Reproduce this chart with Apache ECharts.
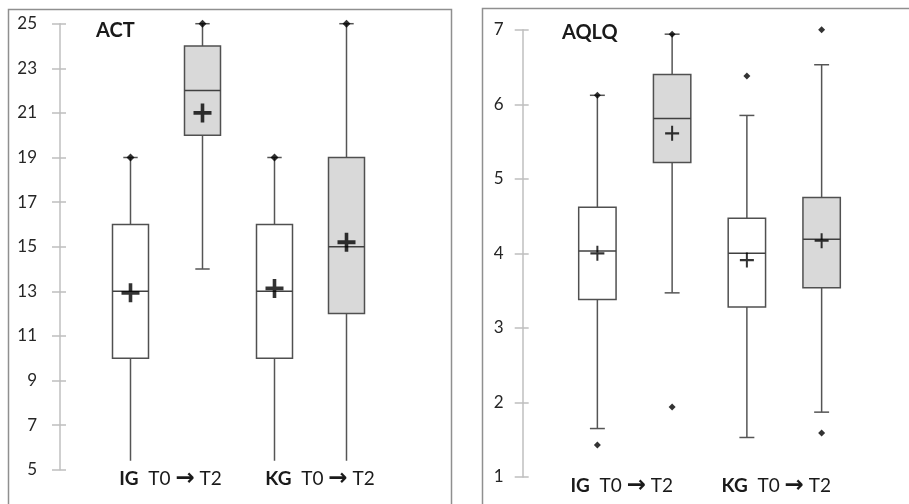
<!DOCTYPE html>
<html>
<head>
<meta charset="utf-8">
<script src="https://cdn.jsdelivr.net/npm/echarts@6/dist/echarts.min.js"></script>
<style>
html,body{margin:0;padding:0;background:#fff;}
#c{width:909px;height:504px;}
</style>
</head>
<body>
<div id="c"></div>
<script>
// ---- data ----
const boxCategories = ['IG T0', 'IG T2', 'KG T0', 'KG T2'];
const groupLabels = ['IG', 'KG'];

const actTicks = [5, 7, 9, 11, 13, 15, 17, 19, 21, 23, 25];
const actMin    = [5, 14, 5, 5];
const actQ1     = [10, 20, 10, 12];
const actMedian = [13, 22, 13, 15];
const actQ3     = [16, 24, 16, 19];
const actMax    = [19, 25, 19, 25];
const actMean   = [12.93, 21.0, 13.13, 15.2];
const actDots   = [[0, 19], [1, 25], [2, 19], [3, 25]];

const aqlqTicks = [1, 2, 3, 4, 5, 6, 7];
const aqlqMin    = [1.65, 3.47, 1.53, 1.87];
const aqlqQ1     = [3.38, 5.22, 3.28, 3.54];
const aqlqMedian = [4.03, 5.81, 4.00, 4.19];
const aqlqQ3     = [4.62, 6.40, 4.47, 4.75];
const aqlqMax    = [6.12, 6.94, 5.85, 6.53];
const aqlqMean   = [4.00, 5.61, 3.91, 4.17];
const aqlqDots   = [[0, 6.12], [0, 1.43], [1, 6.94], [1, 1.94], [2, 6.38], [3, 7.0], [3, 1.59]];

// ---- build ----
const FONT = 'Lato';
function boxData(mn, q1, md, q3, mx) {
  return boxCategories.map((c, i) => [i, mn[i], q1[i], md[i], q3[i], mx[i]]);
}
function meanData(m) { return m.map((v, i) => [i, v]); }

function renderBox(params, api) {
  const x = api.value(0);
  const lo = api.coord([x, api.value(1)]);
  const q1 = api.coord([x, api.value(2)]);
  const md = api.coord([x, api.value(3)]);
  const q3 = api.coord([x, api.value(4)]);
  const hi = api.coord([x, api.value(5)]);
  const band = api.size([1, 0])[0];
  const bw = band * 0.5, cw = band * 0.2;
  const cx = lo[0];
  const fill = (x % 2 === 1) ? '#d9d9d9' : '#ffffff';
  const ls = { stroke: '#555555', lineWidth: 1.5 };
  return {
    type: 'group',
    children: [
      { type: 'line', shape: { x1: cx, y1: q3[1], x2: cx, y2: hi[1] }, style: ls },
      { type: 'line', shape: { x1: cx, y1: q1[1], x2: cx, y2: lo[1] }, style: ls },
      { type: 'line', shape: { x1: cx - cw / 2, y1: hi[1], x2: cx + cw / 2, y2: hi[1] }, style: ls },
      { type: 'line', shape: { x1: cx - cw / 2, y1: lo[1], x2: cx + cw / 2, y2: lo[1] }, style: ls },
      { type: 'rect', shape: { x: cx - bw / 2, y: q3[1], width: bw, height: q1[1] - q3[1] },
        style: { fill: fill, stroke: '#505050', lineWidth: 1.5 } },
      { type: 'line', shape: { x1: cx - bw / 2, y1: md[1], x2: cx + bw / 2, y2: md[1] },
        style: { stroke: '#404040', lineWidth: 1.5 } }
    ]
  };
}

const plusThick = 'path://M4,0h2v4h4v2h-4v4h-2v-4H0V4h4z';
const plusThin = 'path://M6,0h2v6h6v2h-6v6h-2v-6H0V6h6z';

function labelAxis(gridIndex, spacers) {
  return {
    type: 'category', gridIndex: gridIndex, data: groupLabels, z: 10, position: 'bottom',
    axisLine: { show: false }, axisTick: { show: false }, splitLine: { show: false },
    axisLabel: {
      margin: -9, interval: 0,
      backgroundColor: '#ffffff', padding: [8, 4, 8, 4],
      formatter: function (v, i) {
        const s = spacers[i];
        const pre = s > 0 ? '{sp' + i + '| }' : '';
        const post = s < 0 ? '{sp' + i + '| }' : '';
        return pre + '{b|' + v + '}{n|  T0 }{a|→}{n| T2}' + post;
      },
      rich: {
        b: { fontFamily: FONT, fontWeight: 'bold', fontSize: 19, color: '#1a1a1a', lineHeight: 20 },
        n: { fontFamily: FONT, fontSize: 19, color: '#1a1a1a', lineHeight: 20 },
        a: { fontFamily: 'DejaVu Sans', fontWeight: 'bold', fontSize: 23, color: '#1a1a1a', lineHeight: 20 },
        sp0: { width: Math.abs(spacers[0]) * 2, lineHeight: 20 },
        sp1: { width: Math.abs(spacers[1]) * 2, lineHeight: 20 }
      }
    }
  };
}

function valueAxes(gridIndex, min, max, interval, offset, margin) {
  return [
    {
      type: 'value', gridIndex: gridIndex, position: 'left', min: min, max: max, interval: interval, offset: offset,
      axisLine: { show: true, lineStyle: { color: '#bfbfbf', width: 1.5 } },
      axisTick: { show: true, inside: false, length: 8, lineStyle: { color: '#bfbfbf', width: 1.5 } },
      splitLine: { show: false },
      axisLabel: { margin: margin, fontFamily: FONT, fontSize: 17, color: '#262626' }
    },
    {
      type: 'value', gridIndex: gridIndex, position: 'left', min: min, max: max, interval: interval, offset: offset,
      axisLine: { show: false },
      axisTick: { show: true, inside: true, length: 6, lineStyle: { color: '#bfbfbf', width: 1.5 } },
      splitLine: { show: false },
      axisLabel: { show: false }
    }
  ];
}

const chart = echarts.init(document.getElementById('c'), null, { renderer: 'canvas' });
const option = {
  animation: false,
  backgroundColor: '#ffffff',
  title: [
    { text: 'ACT', left: 96, top: 21, padding: 0,
      textStyle: { fontFamily: FONT, fontWeight: 'bold', fontSize: 20, color: '#1a1a1a' } },
    { text: 'AQLQ', left: 562, top: 23, padding: 0,
      textStyle: { fontFamily: FONT, fontWeight: 'bold', fontSize: 20, color: '#1a1a1a' } }
  ],
  graphic: [
    { type: 'rect', left: 6, top: 7, z: -1, silent: true,
      shape: { width: 443, height: 520 }, style: { fill: 'none', stroke: '#8f8f8f', lineWidth: 1.5 } },
    { type: 'rect', left: 480, top: 6, z: -1, silent: true,
      shape: { width: 460, height: 520 }, style: { fill: 'none', stroke: '#8f8f8f', lineWidth: 1.5 } }
  ],
  grid: [
    { left: 94.5, width: 288, top: 23.7, height: 446 },
    { left: 560, width: 299, top: 29.7, height: 453 }
  ],
  xAxis: [
    { type: 'category', gridIndex: 0, data: boxCategories, show: false },
    labelAxis(0, [4, 9.5]),
    { type: 'category', gridIndex: 1, data: boxCategories, show: false },
    labelAxis(1, [-13, -8])
  ],
  yAxis: [].concat(
    valueAxes(0, actTicks[0], actTicks[actTicks.length - 1], 2, 34.5, 23),
    valueAxes(1, aqlqTicks[0], aqlqTicks[aqlqTicks.length - 1], 1, 37.3, 19)
  ),
  series: [
    { type: 'custom', xAxisIndex: 0, yAxisIndex: 0, renderItem: renderBox,
      encode: { x: 0, y: [1, 2, 3, 4, 5] },
      data: boxData(actMin, actQ1, actMedian, actQ3, actMax) },
    { type: 'scatter', xAxisIndex: 0, yAxisIndex: 0, symbol: 'diamond', symbolSize: 8,
      itemStyle: { color: '#000' }, z: 4, data: actDots },
    { type: 'scatter', xAxisIndex: 0, yAxisIndex: 0, symbol: plusThick, symbolSize: [18, 19],
      itemStyle: { color: '#000' }, z: 5, data: meanData(actMean) },
    { type: 'custom', xAxisIndex: 2, yAxisIndex: 2, renderItem: renderBox,
      encode: { x: 0, y: [1, 2, 3, 4, 5] },
      data: boxData(aqlqMin, aqlqQ1, aqlqMedian, aqlqQ3, aqlqMax) },
    { type: 'scatter', xAxisIndex: 2, yAxisIndex: 2, symbol: 'diamond', symbolSize: 7,
      itemStyle: { color: '#000' }, z: 4, data: aqlqDots },
    { type: 'scatter', xAxisIndex: 2, yAxisIndex: 2, symbol: plusThin, symbolSize: [14, 15],
      itemStyle: { color: '#000' }, z: 5, data: meanData(aqlqMean) }
  ]
};
chart.setOption(option);
</script>
</body>
</html>
